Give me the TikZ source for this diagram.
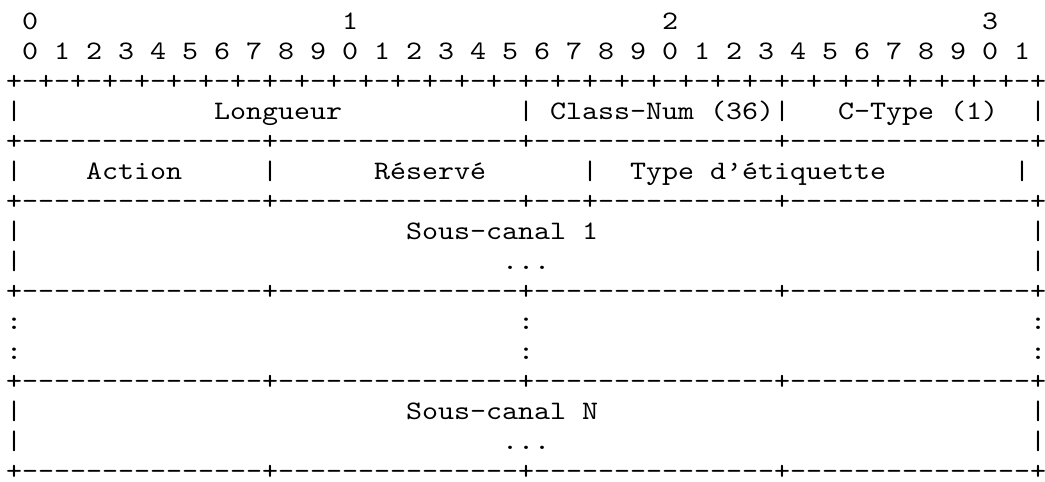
\documentclass[tikz,border=0pt]{standalone}
\usepackage{fontspec}
\setmonofont{lmmono10-regular.otf}[FakeStretch=1.1429]
\newcommand\sk[1]{\kern#1\fontcharwd\font`x\relax}
\def\ds{---------------}
\begin{document}
\begin{tikzpicture}[x=1pt,y=-1pt,
  row/.style={anchor=base west, inner sep=0pt, outer sep=0pt,
    font=\ttfamily\fontsize{26.67pt}{30pt}\selectfont}]
\useasboundingbox[fill=white] (0,0) rectangle (1045,482);
\node[row] (r1)  at (6,29)  {\sk{1}0\sk{19}1\sk{19}2\sk{19}3};
\node[row] (r2)  at (6,59)  {\sk{1}0\sk{1}1\sk{1}2\sk{1}3\sk{1}4\sk{1}5\sk{1}6\sk{1}7\sk{1}8\sk{1}9\sk{1}0\sk{1}1\sk{1}2\sk{1}3\sk{1}4\sk{1}5\sk{1}6\sk{1}7\sk{1}8\sk{1}9\sk{1}0\sk{1}1\sk{1}2\sk{1}3\sk{1}4\sk{1}5\sk{1}6\sk{1}7\sk{1}8\sk{1}9\sk{1}0\sk{1}1};
\node[row] (r3)  at (6,89)  {+-+-+-+-+-+-+-+-+-+-+-+-+-+-+-+-+-+-+-+-+-+-+-+-+-+-+-+-+-+-+-+-+};
\node[row] (r4)  at (6,119) {|\sk{12}Longueur\sk{11}|\sk{1}Class-Num\sk{1}(36)|\sk{3}C-Type\sk{1}(1)\sk{2}|};
\node[row] (r5)  at (6,149) {+\ds+\ds+\ds+\ds+};
\node[row] (r6)  at (6,179) {|\sk{4}Action\sk{5}|\sk{6}Réservé\sk{6}|\sk{2}Type\sk{1}d’étiquette\sk{8}|};
\node[row] (r7)  at (6,209) {+\ds+\ds+---+-----------+\ds+};
\node[row] (r8)  at (6,239) {|\sk{24}Sous-canal\sk{1}1\sk{27}|};
\node[row] (r9)  at (6,269) {|\sk{30}...\sk{30}|};
\node[row] (r10) at (6,299) {+\ds+\ds+\ds+\ds+};
\node[row] (r11) at (6,329) {:\sk{31}:\sk{31}:};
\node[row] (r12) at (6,359) {:\sk{31}:\sk{31}:};
\node[row] (r13) at (6,389) {+\ds+\ds+\ds+\ds+};
\node[row] (r14) at (6,419) {|\sk{24}Sous-canal\sk{1}N\sk{27}|};
\node[row] (r15) at (6,449) {|\sk{30}...\sk{30}|};
\node[row] (r16) at (6,479) {+\ds+\ds+\ds+\ds+};
\end{tikzpicture}
\end{document}
